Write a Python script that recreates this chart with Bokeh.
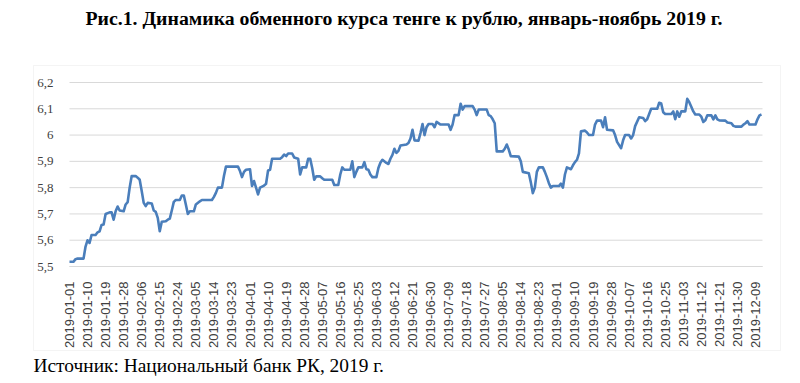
import math
import pandas as pd
from bokeh.plotting import figure
from bokeh.models import Range1d, FixedTicker, Label, BoxAnnotation, CustomJSTickFormatter
from bokeh.embed import file_html
from bokeh.resources import INLINE

# ---- data ----
dates = [
    "2019-01-01", "2019-01-03", "2019-01-04", "2019-01-05", "2019-01-08", "2019-01-09", "2019-01-10", "2019-01-11",
    "2019-01-12", "2019-01-14", "2019-01-15", "2019-01-16", "2019-01-17", "2019-01-18", "2019-01-19", "2019-01-21",
    "2019-01-22", "2019-01-23", "2019-01-24", "2019-01-25", "2019-01-26", "2019-01-28", "2019-01-29", "2019-01-30",
    "2019-01-31", "2019-02-01", "2019-02-03", "2019-02-04", "2019-02-05", "2019-02-06", "2019-02-07", "2019-02-08",
    "2019-02-09", "2019-02-11", "2019-02-12", "2019-02-13", "2019-02-14", "2019-02-15", "2019-02-16", "2019-02-18",
    "2019-02-19", "2019-02-20", "2019-02-21", "2019-02-22", "2019-02-23", "2019-02-25", "2019-02-26", "2019-02-27",
    "2019-02-28", "2019-03-01", "2019-03-02", "2019-03-04", "2019-03-05", "2019-03-07", "2019-03-08", "2019-03-13",
    "2019-03-14", "2019-03-15", "2019-03-16", "2019-03-18", "2019-03-19", "2019-03-20", "2019-03-26", "2019-03-27",
    "2019-03-28", "2019-03-29", "2019-03-30", "2019-04-01", "2019-04-02", "2019-04-03", "2019-04-04", "2019-04-05",
    "2019-04-06", "2019-04-08", "2019-04-09", "2019-04-10", "2019-04-11", "2019-04-12", "2019-04-16", "2019-04-17",
    "2019-04-18", "2019-04-19", "2019-04-20", "2019-04-22", "2019-04-23", "2019-04-25", "2019-04-26", "2019-04-27",
    "2019-04-29", "2019-04-30", "2019-05-01", "2019-05-02", "2019-05-03", "2019-05-04", "2019-05-06", "2019-05-07",
    "2019-05-08", "2019-05-12", "2019-05-13", "2019-05-15", "2019-05-16", "2019-05-17", "2019-05-18", "2019-05-21",
    "2019-05-22", "2019-05-23", "2019-05-24", "2019-05-25", "2019-05-27", "2019-05-28", "2019-05-29", "2019-05-30",
    "2019-05-31", "2019-06-01", "2019-06-03", "2019-06-04", "2019-06-05", "2019-06-06", "2019-06-08", "2019-06-09",
    "2019-06-10", "2019-06-11", "2019-06-12", "2019-06-13", "2019-06-14", "2019-06-15", "2019-06-18", "2019-06-19",
    "2019-06-20", "2019-06-21", "2019-06-22", "2019-06-24", "2019-06-25", "2019-06-26", "2019-06-27", "2019-06-28",
    "2019-06-29", "2019-07-01", "2019-07-02", "2019-07-03", "2019-07-05", "2019-07-09", "2019-07-10", "2019-07-11",
    "2019-07-12", "2019-07-14", "2019-07-15", "2019-07-16", "2019-07-17", "2019-07-21", "2019-07-22", "2019-07-23",
    "2019-07-24", "2019-07-28", "2019-07-29", "2019-07-30", "2019-07-31", "2019-08-01", "2019-08-02", "2019-08-05",
    "2019-08-06", "2019-08-07", "2019-08-08", "2019-08-09", "2019-08-13", "2019-08-14", "2019-08-15", "2019-08-18",
    "2019-08-19", "2019-08-20", "2019-08-21", "2019-08-22", "2019-08-23", "2019-08-25", "2019-08-26", "2019-08-27",
    "2019-08-28", "2019-08-29", "2019-08-30", "2019-09-02", "2019-09-03", "2019-09-04", "2019-09-05", "2019-09-06",
    "2019-09-08", "2019-09-09", "2019-09-10", "2019-09-11", "2019-09-12", "2019-09-13", "2019-09-15", "2019-09-16",
    "2019-09-17", "2019-09-19", "2019-09-20", "2019-09-21", "2019-09-23", "2019-09-24", "2019-09-25", "2019-09-26",
    "2019-09-29", "2019-09-30", "2019-10-01", "2019-10-03", "2019-10-04", "2019-10-05", "2019-10-07", "2019-10-08",
    "2019-10-09", "2019-10-10", "2019-10-12", "2019-10-14", "2019-10-15", "2019-10-16", "2019-10-17", "2019-10-18",
    "2019-10-21", "2019-10-22", "2019-10-23", "2019-10-24", "2019-10-25", "2019-10-28", "2019-10-29", "2019-10-30",
    "2019-10-31", "2019-11-01", "2019-11-02", "2019-11-04", "2019-11-05", "2019-11-06", "2019-11-07", "2019-11-08",
    "2019-11-09", "2019-11-11", "2019-11-12", "2019-11-13", "2019-11-14", "2019-11-15", "2019-11-17", "2019-11-18",
    "2019-11-19", "2019-11-20", "2019-11-21", "2019-11-24", "2019-11-25", "2019-11-27", "2019-11-28", "2019-11-29",
    "2019-12-02", "2019-12-03", "2019-12-04", "2019-12-05", "2019-12-06", "2019-12-09", "2019-12-10", "2019-12-11",
    "2019-12-12",
]
rates = [
    5.518, 5.518, 5.528, 5.530, 5.530, 5.576, 5.600, 5.590,
    5.620, 5.620, 5.630, 5.634, 5.658, 5.660, 5.700, 5.706,
    5.706, 5.678, 5.710, 5.728, 5.713, 5.710, 5.736, 5.745,
    5.800, 5.844, 5.844, 5.838, 5.830, 5.787, 5.742, 5.730,
    5.742, 5.740, 5.713, 5.708, 5.685, 5.634, 5.670, 5.672,
    5.678, 5.682, 5.713, 5.746, 5.753, 5.753, 5.770, 5.770,
    5.736, 5.700, 5.710, 5.710, 5.736, 5.748, 5.753, 5.753,
    5.765, 5.780, 5.800, 5.800, 5.844, 5.880, 5.880, 5.863,
    5.840, 5.860, 5.868, 5.870, 5.806, 5.825, 5.800, 5.774,
    5.800, 5.808, 5.815, 5.865, 5.868, 5.910, 5.910, 5.916,
    5.926, 5.920, 5.930, 5.930, 5.915, 5.910, 5.850, 5.877,
    5.877, 5.910, 5.910, 5.875, 5.830, 5.843, 5.843, 5.836,
    5.830, 5.830, 5.810, 5.810, 5.850, 5.877, 5.868, 5.868,
    5.900, 5.840, 5.860, 5.877, 5.877, 5.897, 5.870, 5.868,
    5.850, 5.840, 5.840, 5.875, 5.895, 5.906, 5.894, 5.890,
    5.910, 5.925, 5.948, 5.932, 5.940, 5.960, 5.964, 5.970,
    5.987, 6.020, 5.980, 5.979, 6.008, 6.042, 6.000, 6.030,
    6.042, 6.042, 6.030, 6.050, 6.040, 6.040, 6.020, 6.040,
    6.076, 6.076, 6.119, 6.097, 6.110, 6.110, 6.097, 6.076,
    6.097, 6.097, 6.076, 6.072, 6.060, 6.045, 5.938, 5.938,
    5.948, 5.964, 5.945, 5.920, 5.918, 5.900, 5.860, 5.855,
    5.820, 5.779, 5.800, 5.860, 5.877, 5.877, 5.860, 5.840,
    5.817, 5.800, 5.806, 5.806, 5.815, 5.800, 5.850, 5.877,
    5.870, 5.885, 5.897, 5.906, 5.930, 6.014, 6.017, 6.010,
    6.000, 6.000, 6.040, 6.055, 6.055, 6.030, 6.068, 6.020,
    6.018, 6.000, 5.974, 5.950, 5.980, 6.000, 6.000, 5.987,
    6.000, 6.034, 6.068, 6.065, 6.053, 6.060, 6.080, 6.100,
    6.100, 6.123, 6.120, 6.087, 6.080, 6.080, 6.090, 6.060,
    6.090, 6.070, 6.090, 6.090, 6.138, 6.125, 6.108, 6.090,
    6.078, 6.078, 6.070, 6.050, 6.056, 6.075, 6.075, 6.060,
    6.075, 6.060, 6.056, 6.055, 6.048, 6.045, 6.035, 6.032,
    6.032, 6.040, 6.045, 6.053, 6.040, 6.040, 6.060, 6.075,
    6.078,
]
tick_labels = [
    "2019-01-01", "2019-01-10", "2019-01-19", "2019-01-28", "2019-02-06", "2019-02-15", "2019-02-24",
    "2019-03-05", "2019-03-14", "2019-03-23", "2019-04-01", "2019-04-10", "2019-04-19", "2019-04-28",
    "2019-05-07", "2019-05-16", "2019-05-25", "2019-06-03", "2019-06-12", "2019-06-21", "2019-06-30",
    "2019-07-09", "2019-07-18", "2019-07-27", "2019-08-05", "2019-08-14", "2019-08-23", "2019-09-01",
    "2019-09-10", "2019-09-19", "2019-09-28", "2019-10-07", "2019-10-16", "2019-10-25", "2019-11-03",
    "2019-11-12", "2019-11-21", "2019-11-30", "2019-12-09",
]
y_ticks = [5.5, 5.6, 5.7, 5.8, 5.9, 6.0, 6.1, 6.2]
title_text = "Рис.1. Динамика обменного курса тенге к рублю, январь-ноябрь 2019 г."
source_text = "Источник: Национальный банк РК, 2019 г."

start = pd.Timestamp("2019-01-01")
xs = [(pd.Timestamp(d) - start).days for d in dates]
tick_pos = [(pd.Timestamp(d) - start).days for d in tick_labels]
x_first, x_last = 0, max(xs) + 0.5

# ---- geometry: the frame covers the whole canvas; everything is placed inside it ----
W, H = 800, 383
box_l, box_r, box_t, box_b = 33, 780, 65, 350          # chart box (px from top-left)
pa_l, pa_r, pa_t, pa_b = 69, 762, 82, 266              # plot area (px from top-left)
px_per_x = (pa_r - pa_l) / (x_last - x_first)
px_per_y = (pa_b - pa_t) / (y_ticks[-1] - y_ticks[0])
x_range = Range1d(x_first - pa_l / px_per_x, x_last + (W - pa_r) / px_per_x)
y_range = Range1d(y_ticks[0] - (H - pa_b) / px_per_y, y_ticks[-1] + pa_t / px_per_y)

p = figure(width=W, height=H, output_backend="svg", toolbar_location=None,
           x_range=x_range, y_range=y_range,
           min_border=0, min_border_left=0, min_border_right=0,
           min_border_top=0, min_border_bottom=0)
p.outline_line_color = None
p.background_fill_color = "white"
p.border_fill_color = "white"
p.xgrid.visible = False
p.ygrid.visible = False
p.title.visible = False

# chart-area border
p.add_layout(BoxAnnotation(left=box_l, right=box_r, top=H - box_t, bottom=H - box_b,
                           left_units="screen", right_units="screen",
                           top_units="screen", bottom_units="screen",
                           fill_color=None, fill_alpha=0,
                           line_color="#d9d9d9", line_width=1))

# horizontal gridlines limited to the plot area
p.segment(x0=x_first, x1=x_last, y0=y_ticks, y1=y_ticks, line_color="#d9d9d9", line_width=1)

# y axis drawn inside the frame
p.yaxis.fixed_location = x_first
p.yaxis.ticker = FixedTicker(ticks=y_ticks)
p.yaxis.formatter = CustomJSTickFormatter(code="""
    let s = tick.toFixed(1);
    if (s.endsWith('.0')) { s = s.slice(0, -2); }
    return s.replace('.', ',');
""")
p.yaxis.axis_line_color = None
p.yaxis.major_tick_line_color = None
p.yaxis.minor_tick_line_color = None
p.yaxis.major_label_text_font = "Liberation Serif"
p.yaxis.major_label_text_font_size = "13px"
p.yaxis.major_label_text_color = "#404040"
p.yaxis.major_label_standoff = 10

# x axis drawn inside the frame
p.xaxis.fixed_location = y_ticks[0]
p.xaxis.bounds = (x_first, x_last)
p.xaxis.ticker = FixedTicker(ticks=tick_pos)
p.xaxis.major_label_overrides = {int(t): lab for t, lab in zip(tick_pos, tick_labels)}
p.xaxis.major_label_orientation = math.pi / 2
p.xaxis.axis_line_color = "#d9d9d9"
p.xaxis.major_tick_line_color = None
p.xaxis.minor_tick_line_color = None
p.xaxis.major_label_text_font = "Liberation Sans"
p.xaxis.major_label_text_font_size = "13px"
p.xaxis.major_label_text_color = "#404040"
p.xaxis.major_label_standoff = 9

p.line(xs, rates, line_color="#4a7ebb", line_width=2.6, line_join="round")

# title and source (screen units measured from the bottom-left of the frame = canvas)
p.add_layout(Label(x=403.5, y=H - 17, x_units="screen", y_units="screen", text=title_text,
                   text_font="Liberation Serif", text_font_style="bold", text_font_size="19.8px",
                   text_align="center", text_baseline="middle", text_color="black"))
p.add_layout(Label(x=box_l, y=H - 365, x_units="screen", y_units="screen", text=source_text,
                   text_font="Liberation Serif", text_font_style="normal", text_font_size="19.4px",
                   text_align="left", text_baseline="middle", text_color="black"))

open("out.html", "w").write(file_html(p, INLINE))
